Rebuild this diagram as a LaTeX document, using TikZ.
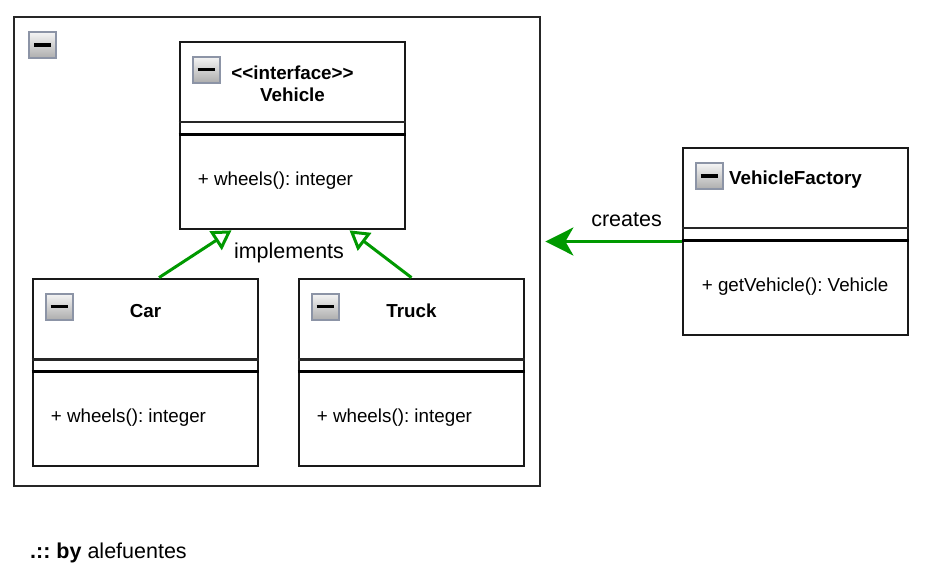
\documentclass[tikz,border=0pt]{standalone}
\usepackage{fontspec}
\setmainfont{Liberation Sans}
\usepackage{tikz}
\usetikzlibrary{arrows.meta,calc}
\frenchspacing

\definecolor{umlgreen}{RGB}{0,153,0}
\definecolor{iconframe}{RGB}{140,148,166}

\begin{document}
\begin{tikzpicture}[x=1pt, y=-1pt,
		every node/.style={inner sep=0pt, font=\fontsize{18.8}{22}\selectfont},
		classbox/.style={draw=black!90, line width=2.75pt, fill=white, minimum width=225pt, minimum height=187pt},
		sep/.style={draw=black!85, line width=2.5pt},
		sepb/.style={draw=black, line width=2.75pt},
		title/.style={font=\fontsize{18.8}{22}\selectfont\bfseries, align=center},
		caption/.style={font=\fontsize{21.5}{25}\selectfont},
		implements/.style={draw=umlgreen, line width=3pt, -{Triangle[open, length=19pt, width=22pt]}},
		creates/.style={draw=umlgreen, line width=3pt, -{Stealth[length=28pt, width=28pt, inset=8pt]}},
		minusicon/.pic={
			\shade[top color=black!4, bottom color=black!32, draw=iconframe, line width=2pt] (0,0) rectangle (27,26);
			\draw[line width=3.5pt] (5,13) -- (22,13);
		}]
	\useasboundingbox (0,0) rectangle (925,567);
	
	\node[draw=black!85, line width=2.75pt, minimum width=526pt, minimum height=469pt] (pkg) at (277,251.5) {};
	\pic at (29,32) {minusicon};
	
	\node[classbox] (vehicle) at (292.5,135.5) {};
	\node[classbox] (car) at (145.5,372.5) {};
	\node[classbox] (truck) at (411.5,372.5) {};
	\node[classbox] (factory) at (795.5,241.5) {};
	
	\draw[sep] ([yshift=-81.5pt]vehicle.north west) -- ([yshift=-81.5pt]vehicle.north east);
	\draw[sepb] ([yshift=-93.5pt]vehicle.north west) -- ([yshift=-93.5pt]vehicle.north east);
	\draw[sep] ([yshift=-82pt]car.north west) -- ([yshift=-82pt]car.north east);
	\draw[sepb] ([yshift=-94pt]car.north west) -- ([yshift=-94pt]car.north east);
	\draw[sep] ([yshift=-82pt]truck.north west) -- ([yshift=-82pt]truck.north east);
	\draw[sepb] ([yshift=-94pt]truck.north west) -- ([yshift=-94pt]truck.north east);
	\draw[sep] ([yshift=-81.5pt]factory.north west) -- ([yshift=-81.5pt]factory.north east);
	\draw[sepb] ([yshift=-93.5pt]factory.north west) -- ([yshift=-93.5pt]factory.north east);
	
	\pic at ([xshift=14pt,yshift=-16pt]vehicle.north west) {minusicon};
	\pic at ([xshift=14pt,yshift=-16pt]car.north west) {minusicon};
	\pic at ([xshift=14pt,yshift=-16pt]truck.north west) {minusicon};
	\pic at ([xshift=14pt,yshift=-16.5pt]factory.north west) {minusicon};
	
	\node[title] (vehicle title) at ([yshift=-43pt]vehicle.north) {<{}<interface>{}>\\Vehicle};
	\node[title] (car title) at ([yshift=-33pt]car.north) {Car};
	\node[title] (truck title) at ([yshift=-33pt]truck.north) {Truck};
	\node[title] (factory title) at ([yshift=-33pt]factory.north) {VehicleFactory};
	
	\node[anchor=west] (vehicle ops) at ([xshift=19pt,yshift=-140pt]vehicle.north west) {+ wheels(): integer};
	\node[anchor=west] (car ops) at ([xshift=19pt,yshift=-140pt]car.north west) {+ wheels(): integer};
	\node[anchor=west] (truck ops) at ([xshift=19pt,yshift=-140pt]truck.north west) {+ wheels(): integer};
	\node[anchor=west] (factory ops) at ([xshift=20pt,yshift=-140pt]factory.north west) {+ getVehicle(): Vehicle};
	
	\coordinate (pkg edge) at ([xshift=4pt]pkg.east);
	
	\draw[implements] ([xshift=13.5pt]car.north) -- ([xshift=-61pt]vehicle.south);
	\draw[implements] (truck.north) -- ([xshift=57pt]vehicle.south);
	\draw[creates] (factory.west) -- (pkg edge |- factory.west);
	
	\node[caption] (implements) at (289,253) {implements};
	\node[caption] (creates) at (626.5,220) {creates};
	
	\node[caption, anchor=west] (credit) at (30,553) {\textbf{.::} \textbf{by} alefuentes};
\end{tikzpicture}
\end{document}
